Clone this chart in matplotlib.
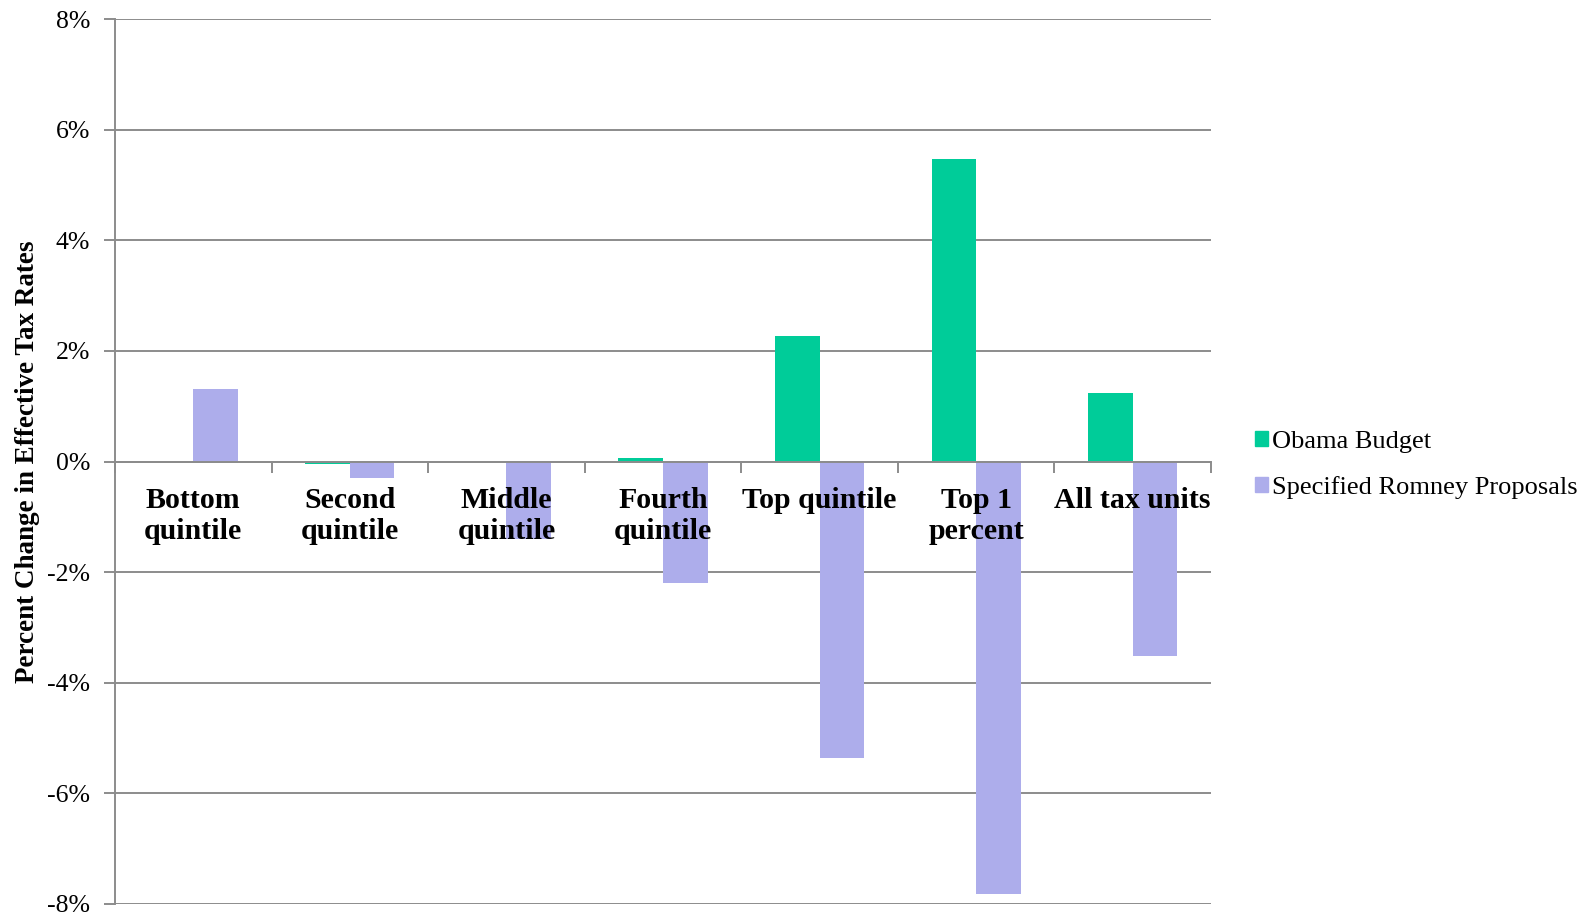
import numpy as np
import matplotlib.pyplot as plt
from matplotlib.patches import Patch
from matplotlib.ticker import FixedLocator, PercentFormatter

categories = ['Bottom\nquintile', 'Second\nquintile', 'Middle\nquintile', 'Fourth\nquintile',
              'Top quintile', 'Top 1\npercent', 'All tax units']
obama = [0.0, -0.05, 0.0, 0.07, 2.26, 5.47, 1.24]
romney = [1.31, -0.30, -1.41, -2.20, -5.36, -7.82, -3.52]
series_names = ['Obama Budget', 'Specified Romney Proposals']

green = '#00CC99'
purple = '#ADADEB'
grid_col = '#8C8C8C'

plt.rcParams['font.family'] = ['Liberation Serif', 'DejaVu Serif']
plt.rcParams['axes.unicode_minus'] = False

fig = plt.figure(figsize=(15.91, 9.14), dpi=100)
ax = fig.add_axes([115 / 1591, 1 - 904 / 914, 1096 / 1591, 885 / 914])

x = np.arange(len(categories))
w = 0.285
ax.bar(x - w / 2, obama, w, color=green, zorder=2)
ax.bar(x + w / 2, romney, w, color=purple, zorder=2)

ax.set_xlim(-0.5, len(categories) - 0.5)
ax.set_ylim(-8, 8)
ax.set_yticks(np.arange(-8, 9, 2))
ax.yaxis.set_major_formatter(PercentFormatter(decimals=0))
ax.grid(axis='y', color=grid_col, linewidth=1.4, zorder=0)
ax.tick_params(axis='y', length=8, width=1.4, color=grid_col, labelsize=18.5, pad=10)

# x axis sits on the zero line, ticks at group boundaries
for s in ['top', 'right']:
    ax.spines[s].set_visible(False)
ax.spines['bottom'].set_position(('data', 0))
ax.spines['bottom'].set_color(grid_col)
ax.spines['bottom'].set_linewidth(1.4)
ax.spines['bottom'].set_zorder(3)
ax.spines['left'].set_color(grid_col)
ax.spines['left'].set_linewidth(1.4)
ax.set_xticks(x)
ax.set_xticklabels(categories, fontsize=21.5, fontweight='bold', linespacing=1.2)
ax.xaxis.set_minor_locator(FixedLocator(np.arange(-0.5, len(categories), 1)))
ax.tick_params(axis='x', which='major', length=0, pad=18)
ax.tick_params(axis='x', which='minor', length=8, width=1.4, color=grid_col, direction='out')
ax.xaxis.set_zorder(5)  # labels drawn over the bars

ax.set_ylabel('Percent Change in Effective Tax Rates', fontsize=19.5, fontweight='bold')
ax.yaxis.set_label_coords(-0.068, 0.5)

handles = [Patch(color=green), Patch(color=purple)]
fig.legend(handles, series_names, loc='center left', bbox_to_anchor=(0.7885, 0.4915),
           frameon=False, fontsize=19, handlelength=0.5, handleheight=0.5,
           handletextpad=0.15, labelspacing=0.86, borderpad=0, borderaxespad=0)

fig.savefig('out.png', dpi=100)
